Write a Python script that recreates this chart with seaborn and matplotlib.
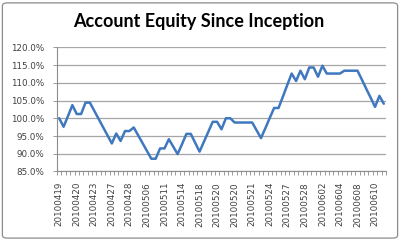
import numpy as np
import pandas as pd
import matplotlib
matplotlib.use("Agg")
import matplotlib.pyplot as plt
import seaborn as sns
from matplotlib.patches import FancyBboxPatch

# ---- data (equity in % of initial, one value per trade/record) ----
equity = [100.0, 97.6, 100.6, 103.7, 101.2, 101.2, 104.4, 104.4, 102.1, 99.8,
          97.5, 95.2, 92.9, 95.7, 93.6, 96.4, 96.4, 97.4, 95.2, 93.0,
          90.8, 88.6, 88.6, 91.5, 91.5, 94.1, 92.0, 89.9, 92.7, 95.6,
          95.6, 93.1, 90.6, 93.4, 96.2, 99.0, 99.0, 96.9, 100.0, 100.0,
          98.8, 98.8, 98.8, 98.8, 98.8, 96.6, 94.4, 97.2, 100.1, 102.9,
          102.9, 106.1, 109.4, 112.6, 110.5, 113.4, 111.0, 114.3, 114.3, 111.7,
          114.8, 112.6, 112.6, 112.6, 112.6, 113.4, 113.4, 113.4, 113.4, 110.9,
          108.3, 105.8, 103.2, 106.3, 104.1]
tick_labels = ["20100419", "20100420", "20100423", "20100427", "20100428",
               "20100506", "20100511", "20100514", "20100518", "20100520",
               "20100520", "20100521", "20100524", "20100527", "20100528",
               "20100602", "20100604", "20100608", "20100610"]
y_ticks = [85, 90, 95, 100, 105, 110, 115, 120]
title = "Account Equity Since Inception"

df = pd.DataFrame({"idx": np.arange(len(equity)), "equity": equity})

sns.set_theme(style="white")
plt.rcParams['font.family'] = ['DejaVu Sans']

fig = plt.figure(figsize=(4.0, 2.41), dpi=100)
fig.patch.set_facecolor("white")

# chart-area border
border = FancyBboxPatch((0.006, 0.012), 0.988, 0.976, boxstyle="round,pad=0,rounding_size=0.012",
                        transform=fig.transFigure, facecolor="none", edgecolor="#8c8c8c",
                        linewidth=0.9, zorder=0)
fig.patches.append(border)

ax = fig.add_axes([0.1425, 0.2884, 0.8225, 0.5154])
sns.lineplot(data=df, x="idx", y="equity", ax=ax, color="#3F78BF", linewidth=1.8)

ax.set_xlim(-0.5, len(equity) - 0.5)
ax.set_ylim(85, 120)
ax.set_yticks(y_ticks)
ax.set_yticklabels([f"{v:.1f}%" for v in y_ticks], fontsize=6.3, color="#404040")
ax.yaxis.grid(True, color="#a6a6a6", linewidth=0.9)
ax.xaxis.grid(False)
ax.set_axisbelow(True)

major_pos = np.arange(0, len(equity), 4)[:len(tick_labels)]
ax.set_xticks(major_pos)
ax.set_xticklabels(tick_labels, rotation=90, fontsize=6.3, color="#404040", va="top")
ax.set_xticks(np.arange(-0.5, len(equity) + 0.5, 1.0), minor=True)
ax.tick_params(axis="x", which="major", length=0, pad=7.5)
ax.tick_params(axis="x", which="minor", length=3, width=0.6, color="#8c8c8c", direction="out", bottom=True)
ax.tick_params(axis="y", which="major", length=3, width=0.6, color="#8c8c8c", pad=6, left=True)

for s in ["top", "right"]:
    ax.spines[s].set_visible(False)
for s in ["left", "bottom"]:
    ax.spines[s].set_color("#8c8c8c")
    ax.spines[s].set_linewidth(0.8)

ax.set_xlabel("")
ax.set_ylabel("")

fig.text(0.4975, 1 - 21.5 / 241, title, ha="center", va="center",
         fontsize=13, fontweight="bold", family=["Lato", "DejaVu Sans"], color="black")

fig.savefig("out.png", dpi=100)
